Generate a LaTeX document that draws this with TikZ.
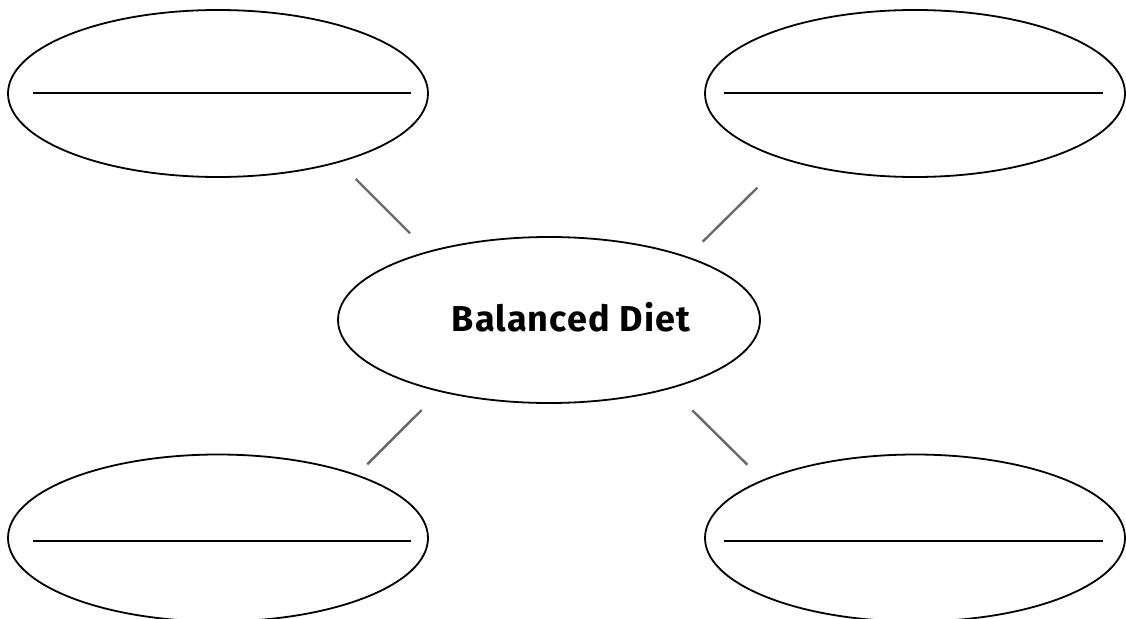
\documentclass[tikz,border=0pt]{standalone}
\usepackage{fontspec}
\setmainfont{Fira Sans}
\newfontfamily\titlefont[LetterSpace=3]{Fira Sans}
\usetikzlibrary{shapes.geometric}
\begin{document}
\begin{tikzpicture}[x=1pt,y=-1pt,
  bubble/.style={ellipse,draw=black,line width=1.8pt,minimum width=420pt,minimum height=167pt,inner sep=0pt},
  blank/.style={line width=2pt,black},
  link/.style={line width=2.4pt,draw={rgb,255:red,105;green,105;blue,105}}]
  \useasboundingbox (0,0) rectangle (1126,618);

  % central topic
  \node[bubble,minimum width=422pt,minimum height=166pt] (hub) at (549,320) {};
  \node[font=\titlefont\fontsize{36}{40}\selectfont\bfseries,anchor=base] (title) at (571,331) {Balanced Diet};

  % four surrounding bubbles with write-in lines
  \node[bubble] (tl) at (218,93.5) {};
  \node[bubble] (tr) at (915,93.5) {};
  \node[bubble] (bl) at (218,538) {};
  \node[bubble] (br) at (915,538) {};

  \draw[blank] ([xshift=-185pt,yshift=0.5pt]tl.center) coordinate (tlA) -- ([xshift=193pt,yshift=0.5pt]tl.center) coordinate (tlB);
  \draw[blank] ([xshift=-191pt,yshift=0.5pt]tr.center) coordinate (trA) -- ([xshift=188pt,yshift=0.5pt]tr.center) coordinate (trB);
  \draw[blank] ([xshift=-185pt,yshift=-3pt]bl.center) coordinate (blA) -- ([xshift=193pt,yshift=-3pt]bl.center) coordinate (blB);
  \draw[blank] ([xshift=-191pt,yshift=-3pt]br.center) coordinate (brA) -- ([xshift=188pt,yshift=-3pt]br.center) coordinate (brB);

  % short spokes between the hub and the bubbles
  \coordinate (s1a) at (355.7,179);  \coordinate (s1b) at (410,233.3);
  \coordinate (s2a) at (757.3,187.7); \coordinate (s2b) at (702.7,241.7);
  \coordinate (s3a) at (421.7,410);  \coordinate (s3b) at (367.3,464.3);
  \coordinate (s4a) at (692.3,410.3); \coordinate (s4b) at (747.3,464.7);
  \draw[link] (s1a) -- (s1b);
  \draw[link] (s2a) -- (s2b);
  \draw[link] (s3a) -- (s3b);
  \draw[link] (s4a) -- (s4b);
\end{tikzpicture}
\end{document}
